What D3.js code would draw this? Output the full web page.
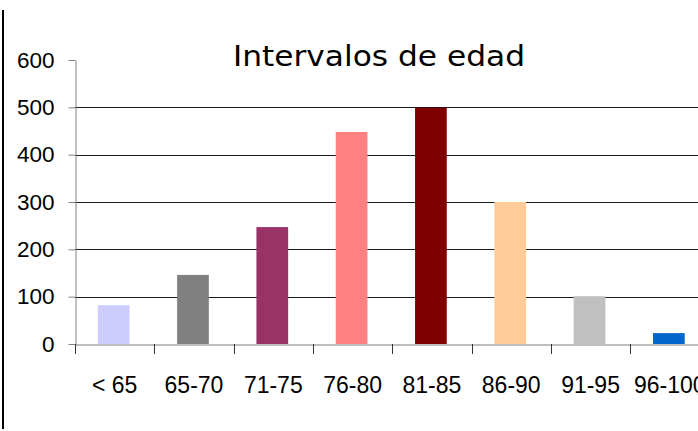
<!DOCTYPE html>
<html>
<head>
<meta charset="utf-8">
<script src="https://cdn.jsdelivr.net/npm/d3@7"></script>
<style>
html,body{margin:0;padding:0;background:#fff;overflow:hidden;}
svg{display:block;}
</style>
</head>
<body>
<svg id="chart" width="698" height="431"></svg>
<script>
const categories = ["< 65", "65-70", "71-75", "76-80", "81-85", "86-90", "91-95", "96-100"];
const values = [82, 146, 247, 448, 499, 300, 101, 23];
const colors = ["#CCCCFF", "#808080", "#993366", "#FF8080", "#800000", "#FFCC99", "#C0C0C0", "#0066CC"];
const yTicks = [0, 100, 200, 300, 400, 500, 600];
const title = "Intervalos de edad";

const svg = d3.select("#chart");
const W = 698, H = 431;
const plot = {left: 75, right: 709.5, top: 60, bottom: 344};

const x = d3.scaleBand().domain(categories).range([plot.left, plot.right]).padding(0);
const y = d3.scaleLinear().domain([0, 600]).range([plot.bottom, plot.top]);

// left border line
svg.append("line").attr("x1", 3).attr("x2", 3).attr("y1", 10).attr("y2", 429)
  .attr("stroke", "#000").attr("stroke-width", 2);

// gridlines (100..500)
svg.append("g").selectAll("line").data(yTicks.filter(t => t > 0 && t < 600)).join("line")
  .attr("x1", plot.left).attr("x2", W)
  .attr("y1", d => Math.round(y(d)) + 0.5).attr("y2", d => Math.round(y(d)) + 0.5)
  .attr("stroke", "#1a1a1a").attr("stroke-width", 1);

// bars
const bw = x.bandwidth() * 0.4;
svg.append("g").selectAll("rect").data(categories).join("rect")
  .attr("x", (d) => x(d) + x.bandwidth() / 2 - bw / 2 - 1)
  .attr("width", bw)
  .attr("y", (d, i) => y(values[i]))
  .attr("height", (d, i) => y(0) - y(values[i]))
  .attr("fill", (d, i) => colors[i]);

// y axis
const yAxis = d3.axisLeft(y).tickValues(yTicks).tickSize(7).tickPadding(14).tickSizeOuter(0);
const gy = svg.append("g").attr("transform", `translate(${plot.left + 0.5},0)`).call(yAxis);
gy.select(".domain").attr("stroke", "#808080");
gy.selectAll(".tick line").attr("stroke", "#808080");
gy.selectAll(".tick text").attr("font-family", "Liberation Sans, Arial, sans-serif")
  .attr("font-size", 22.5).attr("fill", "#000").attr("dy", "0.32em");

// x axis
const xAxis = d3.axisBottom(x).tickSize(0).tickSizeOuter(0).tickPadding(31);
const gx = svg.append("g").attr("transform", `translate(0,${plot.bottom + 0.5})`).call(xAxis);
gx.select(".domain").attr("stroke", "#808080");
gx.selectAll(".tick text").attr("font-family", "Liberation Sans, Arial, sans-serif")
  .attr("font-size", 23).attr("fill", "#000").attr("dy", "0.75em");
// category separator ticks
svg.append("g").selectAll("line").data(categories).join("line")
  .attr("x1", d => Math.round(x(d)) + 0.5).attr("x2", d => Math.round(x(d)) + 0.5)
  .attr("y1", plot.bottom).attr("y2", plot.bottom + 10)
  .attr("stroke", "#333");

// title
svg.append("text").attr("x", 379).attr("y", 66).attr("text-anchor", "middle")
  .attr("font-family", "DejaVu Sans, sans-serif").attr("font-size", 29)
  .attr("textLength", 292).attr("lengthAdjust", "spacingAndGlyphs")
  .attr("fill", "#000").text(title);
</script>
</body>
</html>
